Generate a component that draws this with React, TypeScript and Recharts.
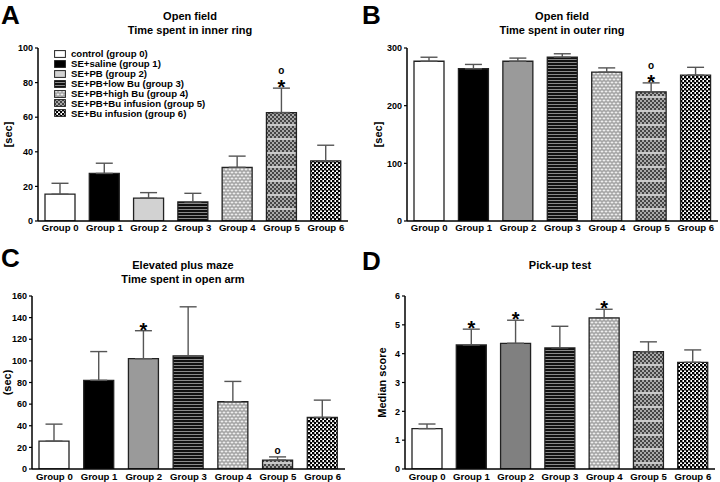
import React from 'react';
import { BarChart, Bar, XAxis, YAxis, ErrorBar, Cell, LabelList, Label } from 'recharts';

const groups = ['Group 0', 'Group 1', 'Group 2', 'Group 3', 'Group 4', 'Group 5', 'Group 6'];
const legendLabels = [
  'control (group 0)',
  'SE+saline (group 1)',
  'SE+PB (group 2)',
  'SE+PB+low Bu (group 3)',
  'SE+PB+high Bu (group 4)',
  'SE+PB+Bu infusion (group 5)',
  'SE+Bu infusion (group 6)',
];

// A: Open field, time in inner ring
const innerRing = [15.5, 27.5, 13.2, 11, 31, 62.7, 34.7];
const innerRingErr = [6.3, 5.9, 3.2, 5, 6.5, 14.1, 9.1];
const innerRingMarks = ['', '', '', '', '', '*o', ''];
const innerTicks = [0, 20, 40, 60, 80, 100];

// B: Open field, time in outer ring
const outerRing = [277, 264, 277, 284, 258, 224, 253];
const outerRingErr = [7, 7.5, 5.5, 6, 7.5, 15.5, 13.5];
const outerRingMarks = ['', '', '', '', '', '*o', ''];
const outerTicks = [0, 100, 200, 300];

// C: Elevated plus maze, time in open arm
const openArm = [25.8, 82, 102, 104.6, 62.2, 8.3, 47.7];
const openArmErr = [15.7, 26.6, 25.9, 45.4, 18.8, 2.9, 16];
const openArmMarks = ['', '', '*', '', '', 'o', ''];
const openArmTicks = [0, 20, 40, 60, 80, 100, 120, 140, 160];

// D: Pick-up test
const pickup = [1.4, 4.3, 4.36, 4.2, 5.24, 4.07, 3.7];
const pickupErr = [0.16, 0.55, 0.8, 0.75, 0.3, 0.34, 0.43];
const pickupMarks = ['', '*', '*', '', '*', '', ''];
const pickupTicks = [0, 1, 2, 3, 4, 5, 6];

const FONT = '"Liberation Sans", Arial, sans-serif';

const fillsA = ['#ffffff', '#000000', '#d2d2d2', 'url(#pStripe)', 'url(#pBrick)', 'url(#pCheckGray)', 'url(#pCheck)'];
const fillsB = ['#ffffff', '#000000', '#9a9a9a', 'url(#pStripe)', 'url(#pBrick)', 'url(#pCheckGray)', 'url(#pCheck)'];
const fillsD = ['#ffffff', '#000000', '#808080', 'url(#pStripe)', 'url(#pBrick)', 'url(#pCheckGray)', 'url(#pCheck)'];

type Row = { name: string; value: number; err: [number, number]; mark: string };

function build(values: number[], errs: number[], marks: string[]): Row[] {
  return groups.map((g, i) => ({ name: g, value: values[i], err: [0, errs[i]], mark: marks[i] }));
}

function makeMarkContent(data: Row[]) {
  return (props: any) => {
    const { x, y, width, height, index } = props;
    const row = data[index];
    if (!row || !row.mark) return null;
    const pxPerUnit = height / row.value;
    const capY = y - row.err[1] * pxPerUnit;
    const cx = x + width / 2;
    const items: any[] = [];
    row.mark.split('').forEach((ch, k) => {
      const center = capY - 5.5 - k * 11;
      if (ch === '*') {
        items.push(
          <text key={k} x={cx} y={center + 11.5} textAnchor="middle" fontSize={20} fontWeight="bold" fontFamily={FONT} fill="#000">*</text>
        );
      } else {
        items.push(
          <text key={k} x={cx} y={center + 2.8} textAnchor="middle" fontSize={10} fontWeight="bold" fontFamily={FONT} fill="#000">o</text>
        );
      }
    });
    return <g>{items}</g>;
  };
}

type PanelProps = {
  data: Row[];
  fills: string[];
  ticks: number[];
  domainMax: number;
  left: number;
  top: number;
  width: number;
  height: number;
  margin: { top: number; right: number; left: number; bottom: number };
  yWidth: number;
  xHeight: number;
  yLabel: string;
  yLabelOffset: number;
  xTickMargin: number;
};

function Panel(p: PanelProps) {
  const tickStyle = { fontSize: 9.6, fontWeight: 'bold' as const, fontFamily: FONT, fill: '#000' };
  return (
    <div style={{ position: 'absolute', left: p.left, top: p.top }}>
      <BarChart width={p.width} height={p.height} data={p.data} margin={p.margin} barSize={30}>
        <XAxis
          dataKey="name"
          height={p.xHeight}
          tickLine={false}
          tickSize={0}
          tickMargin={p.xTickMargin}
          axisLine={{ stroke: '#000', strokeWidth: 1.5 }}
          tick={tickStyle}
          interval={0}
        />
        <YAxis
          width={p.yWidth}
          domain={[0, p.domainMax]}
          ticks={p.ticks}
          tickSize={3}
          tickMargin={2}
          tickLine={{ stroke: '#000', strokeWidth: 1.2 }}
          axisLine={{ stroke: '#000', strokeWidth: 1.5 }}
          tick={{ ...tickStyle, fontSize: 9 }}
          allowDataOverflow
        >
          <Label
            value={p.yLabel}
            angle={-90}
            position="insideLeft"
            offset={p.yLabelOffset}
            style={{ textAnchor: 'middle', fontSize: 11, fontWeight: 'bold', fontFamily: FONT, fill: '#000' }}
          />
        </YAxis>
        <Bar dataKey="value" isAnimationActive={false} stroke="#222" strokeWidth={1.3}>
          {p.data.map((_, i) => (
            <Cell key={i} fill={p.fills[i]} />
          ))}
          <ErrorBar dataKey="err" direction="y" width={8.5} stroke="#555" strokeWidth={1.4} isAnimationActive={false} />
          <LabelList dataKey="mark" content={makeMarkContent(p.data)} />
        </Bar>
      </BarChart>
    </div>
  );
}

function Title({ lines, cx, top }: { lines: string[]; cx: number; top: number }) {
  return (
    <div
      style={{
        position: 'absolute',
        left: cx - 150,
        width: 300,
        top,
        textAlign: 'center',
        fontFamily: FONT,
        fontWeight: 'bold',
        fontSize: 11,
        lineHeight: '14px',
        color: '#000',
      }}
    >
      {lines.map((l, i) => (
        <div key={i}>{l}</div>
      ))}
    </div>
  );
}

function Letter({ ch, left, top }: { ch: string; left: number; top: number }) {
  return (
    <div style={{ position: 'absolute', left, top, fontFamily: FONT, fontWeight: 'bold', fontSize: 26, lineHeight: '30px', color: '#000' }}>
      {ch}
    </div>
  );
}

function LegendBox() {
  return (
    <div style={{ position: 'absolute', left: 54, top: 49, fontFamily: FONT, fontWeight: 'bold', fontSize: 9.6, color: '#000', whiteSpace: 'nowrap' }}>
      {legendLabels.map((l, i) => (
        <div key={i} style={{ display: 'flex', alignItems: 'center', height: 9.9 }}>
          <svg width={12} height={8} style={{ marginRight: 5 }}>
            <rect x={0.6} y={0.6} width={10.8} height={6.8} fill={fillsA[i]} stroke="#222" strokeWidth={1} />
          </svg>
          <span>{l}</span>
        </div>
      ))}
    </div>
  );
}

function Patterns() {
  return (
    <svg width={0} height={0} style={{ position: 'absolute' }}>
      <defs>
        <pattern id="pStripe" patternUnits="userSpaceOnUse" width={4} height={3}>
          <rect width={4} height={3} fill="#8a8a8a" />
          <rect width={4} height={2} fill="#111" />
        </pattern>
        <pattern id="pBrick" patternUnits="userSpaceOnUse" width={8} height={6}>
          <rect width={8} height={6} fill="#8e8e8e" />
          <rect x={0.5} y={0.5} width={3} height={2} fill="#eeeeee" />
          <rect x={4.5} y={0.5} width={3} height={2} fill="#eeeeee" />
          <rect x={2.5} y={3.5} width={3} height={2} fill="#eeeeee" />
          <rect x={6.5} y={3.5} width={1.5} height={2} fill="#eeeeee" />
          <rect x={0} y={3.5} width={1.5} height={2} fill="#eeeeee" />
        </pattern>
        <pattern id="pCheckGray" patternUnits="userSpaceOnUse" width={4} height={14}>
          <rect width={4} height={14} fill="#a8a8a8" />
          <rect x={0} y={0} width={2} height={2} fill="#444" />
          <rect x={2} y={2} width={2} height={2} fill="#444" />
          <rect x={0} y={4} width={2} height={2} fill="#444" />
          <rect x={2} y={6} width={2} height={2} fill="#444" />
          <rect x={0} y={8} width={2} height={2} fill="#444" />
          <rect x={2} y={10} width={2} height={2} fill="#444" />
          <rect x={0} y={12} width={4} height={2} fill="#c8c8c8" />
        </pattern>
        <pattern id="pCheck" patternUnits="userSpaceOnUse" width={4} height={4}>
          <rect width={4} height={4} fill="#fff" />
          <rect x={0} y={0} width={2.4} height={2.4} fill="#000" />
          <rect x={2} y={2} width={2.4} height={2.4} fill="#000" />
        </pattern>
      </defs>
    </svg>
  );
}

const dataA = build(innerRing, innerRingErr, innerRingMarks);
const dataB = build(outerRing, outerRingErr, outerRingMarks);
const dataC = build(openArm, openArmErr, openArmMarks);
const dataD = build(pickup, pickupErr, pickupMarks);

export default function App() {
  return (
    <div style={{ position: 'absolute', left: 0, top: 0, width: 720, height: 482, background: '#fff', overflow: 'hidden' }}>
      <Patterns />
      <Panel
        data={dataA} fills={fillsA} ticks={innerTicks} domainMax={100}
        left={0} top={0} width={360} height={240}
        margin={{ top: 48, right: 12, left: 2, bottom: 0 }}
        yWidth={36} xHeight={19} yLabel="[sec]" yLabelOffset={6} xTickMargin={3}
      />
      <Panel
        data={dataB} fills={fillsB} ticks={outerTicks} domainMax={300}
        left={360} top={0} width={360} height={240}
        margin={{ top: 48, right: 2, left: 9, bottom: 0 }}
        yWidth={38} xHeight={19} yLabel="[sec]" yLabelOffset={9} xTickMargin={3}
      />
      <Panel
        data={dataC} fills={fillsB} ticks={openArmTicks} domainMax={160}
        left={0} top={240} width={360} height={242}
        margin={{ top: 56, right: 15, left: 2, bottom: 1 }}
        yWidth={30} xHeight={12} yLabel="(sec)" yLabelOffset={5} xTickMargin={4}
      />
      <Panel
        data={dataD} fills={fillsD} ticks={pickupTicks} domainMax={6}
        left={360} top={240} width={360} height={242}
        margin={{ top: 56, right: 5, left: 7, bottom: 1 }}
        yWidth={38} xHeight={12} yLabel="Median score" yLabelOffset={15} xTickMargin={4}
      />
      <LegendBox />
      <Title lines={['Open field', 'Time spent in inner ring']} cx={190} top={9} />
      <Title lines={['Open field', 'Time spent in outer ring']} cx={562} top={9} />
      <Title lines={['Elevated plus maze', 'Time spent in open arm']} cx={183} top={258} />
      <Title lines={['Pick-up test']} cx={560} top={258} />
      <Letter ch="A" left={1} top={0} />
      <Letter ch="B" left={362} top={0} />
      <Letter ch="C" left={1} top={243} />
      <Letter ch="D" left={362} top={246} />
    </div>
  );
}
